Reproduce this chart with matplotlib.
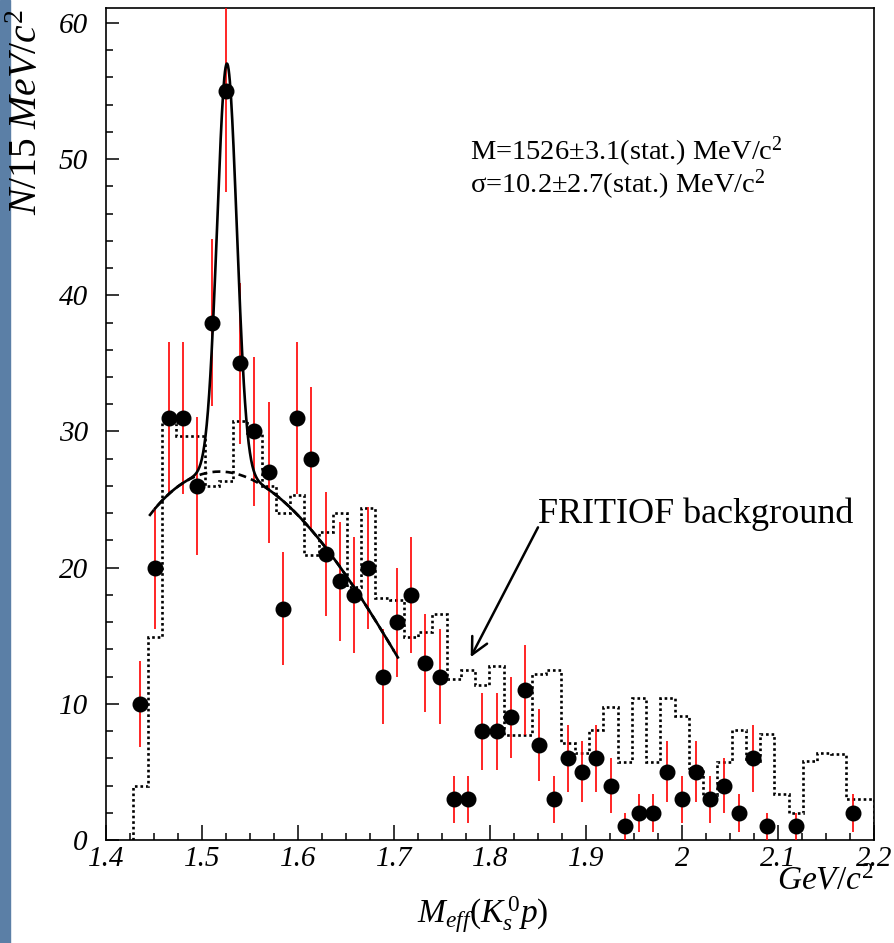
import numpy as np
import matplotlib
matplotlib.use("Agg")
import matplotlib.pyplot as plt
from matplotlib.ticker import MultipleLocator
from matplotlib.patches import Rectangle

# binning of the K0s p mass spectrum (GeV/c^2)
bin_lo = 1.4285
bin_hi = 2.2
n_bins = 52

# events per bin (0 = empty bin, no point drawn)
counts = [10, 20, 31, 31, 26, 38, 55, 35, 30, 27,
          17, 31, 28, 21, 19, 18, 20, 12, 16, 18,
          13, 12, 3, 3, 8, 8, 9, 11, 7, 3,
          6, 5, 6, 4, 1, 2, 2, 5, 3, 5,
          3, 4, 2, 6, 1, 0, 1, 0, 0, 0,
          2, 0]

# FRITIOF background histogram, same binning
fritiof = [4.0, 14.9, 30.6, 29.7, 29.7, 26.0, 26.4, 30.8, 29.9, 26.0,
           24.0, 25.3, 20.9, 22.6, 24.0, 18.6, 24.4, 17.8, 17.6, 14.9,
           15.3, 16.6, 11.8, 12.5, 11.4, 12.8, 7.7, 7.7, 12.2, 12.5,
           7.1, 6.4, 8.1, 9.8, 5.7, 10.4, 5.7, 10.4, 9.1, 5.3,
           3.3, 5.7, 8.1, 5.8, 7.8, 3.4, 2.0, 5.8, 6.4, 6.3,
           3.0, 3.0]

# fit: gaussian peak + cubic background (t = m - bg_x0)
peak_mass = 1.526
peak_sigma = 0.0102
peak_amp = 30.0
bg_x0 = 1.49
bg_coef = [26.6, 32.87, -615.8, 813.6]
fit_range = (1.451, 1.704)
bg_range = (1.445, 1.700)

xtick_vals = [1.4, 1.5, 1.6, 1.7, 1.8, 1.9, 2.0, 2.1, 2.2]
xtick_labels = ["1.4", "1.5", "1.6", "1.7", "1.8", "1.9", "2", "2.1", "2.2"]
ytick_vals = [0, 10, 20, 30, 40, 50, 60]
ytick_labels = ["0", "10", "20", "30", "40", "50", "60"]

plt.rcParams["font.family"] = "Liberation Serif"
plt.rcParams["mathtext.fontset"] = "custom"
plt.rcParams["mathtext.rm"] = "Liberation Serif"
plt.rcParams["mathtext.it"] = "Liberation Serif:italic"


def background(m):
    t = m - bg_x0
    return bg_coef[0] + bg_coef[1] * t + bg_coef[2] * t**2 + bg_coef[3] * t**3


def full_fit(m):
    return background(m) + peak_amp * np.exp(-0.5 * ((m - peak_mass) / peak_sigma) ** 2)


edges = np.linspace(bin_lo, bin_hi, n_bins + 1)
centers = 0.5 * (edges[:-1] + edges[1:])
n = np.array(counts, dtype=float)
has = n > 0

W, H = 895, 943
fig = plt.figure(figsize=(W / 100, H / 100), dpi=100)
fig.patches.append(Rectangle((0, 0), 10 / W, 1, transform=fig.transFigure,
                             color="#5b7fa6", zorder=0))

ax = fig.add_axes([106 / W, 1 - 840 / H, 768 / W, 832 / H])

# background histogram (dotted)
ax.stairs(fritiof, edges, baseline=0, color="black", lw=1.9,
          ls=(0, (1, 1.1)), zorder=2)

# error bars
ax.errorbar(centers[has], n[has], yerr=np.sqrt(n[has]), fmt="none",
            ecolor="red", elinewidth=1.2, capsize=0, zorder=3)

# fit curves
mb = np.linspace(bg_range[0], bg_range[1], 300)
ax.plot(mb, background(mb), color="black", lw=1.9, ls=(0, (3, 2)), zorder=4)
mf = np.linspace(fit_range[0], fit_range[1], 400)
ax.plot(mf, full_fit(mf), color="black", lw=1.9, zorder=5)

# data points
ax.plot(centers[has], n[has], "o", color="black", ms=10.5, zorder=6)

ax.set_xlim(1.4, 2.2)
ax.set_ylim(0, 61.1)
ax.set_xticks(xtick_vals, xtick_labels, fontstyle="italic", fontsize=21)
ax.set_yticks(ytick_vals, ytick_labels, fontstyle="italic", fontsize=21)
ax.xaxis.set_minor_locator(MultipleLocator(0.025))
ax.yaxis.set_minor_locator(MultipleLocator(2))
ax.tick_params(which="both", direction="in", top=False, right=False, width=1.1)
ax.tick_params(axis="x", which="major", length=11, pad=4)
ax.tick_params(axis="y", which="major", length=9.5, pad=13)
ax.tick_params(which="minor", length=5)
for s in ax.spines.values():
    s.set_linewidth(1.2)

# arrow + label
ax.annotate("", xy=(1.7799, 13.43), xytext=(1.85, 22.96),
            arrowprops=dict(arrowstyle="->", lw=1.8, color="black",
                            mutation_scale=30, shrinkA=0, shrinkB=0))
fig.text(538 / W, 1 - 523 / H, "FRITIOF background", fontsize=26,
         ha="left", va="baseline")

fig.text(470 / W, 1 - 160 / H, r"M=1526$\pm$3.1(stat.) MeV/c$^2$",
         fontsize=20.5, ha="left", va="baseline")
fig.text(470 / W, 1 - 193 / H, "\u03c3=10.2\u00b12.7(stat.) MeV/c$^2$",
         fontsize=20.5, ha="left", va="baseline")

# axis titles
fig.text(28 / W, 1 - 9 / H, r"$N/15\ MeV/c^{\mathit{2}}$", fontsize=28.5,
         rotation=90, ha="center", va="top")
fig.text(483 / W, 1 - 923 / H, r"$M_{eff}(K_s^{\,0}p)$", fontsize=24,
         ha="center", va="baseline")
fig.text(874 / W, 1 - 890 / H, r"$GeV/c^{\mathit{2}}$", fontsize=24,
         ha="right", va="baseline")

fig.savefig("out.png", dpi=100)
